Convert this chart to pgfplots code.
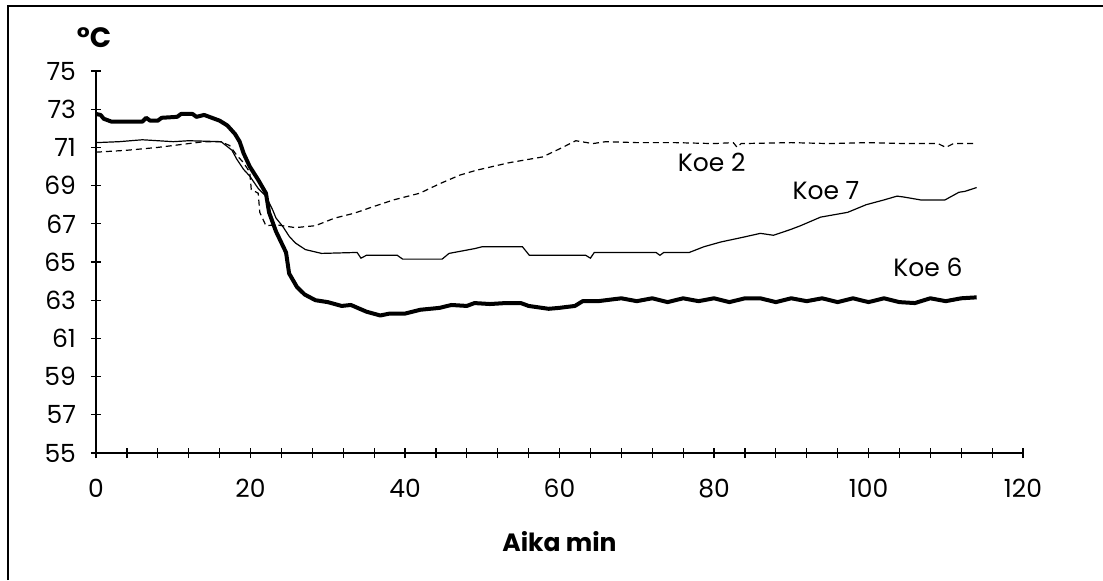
\documentclass[border=0pt]{standalone}
\usepackage{fontspec}
\setmainfont{Poppins}
\usepackage{pgfplots}
\pgfplotsset{compat=1.18}
\begin{document}
\begin{tikzpicture}
\useasboundingbox (-48pt,-63.5pt) rectangle (503.5pt,226.5pt);
\draw[line width=1pt] (-44pt,-63.5pt) -- (-44pt,223.5pt) -- (503.5pt,223.5pt);
\begin{axis}[
  at={(0pt,0pt)}, anchor=south west,
  scale only axis, width=463.5pt, height=191pt,
  xmin=0, xmax=120, ymin=55, ymax=75,
  axis x line*=bottom, axis y line*=left,
  axis line style={line width=0.7pt, -},
  xtick={0,20,...,120}, minor xtick={0,4,...,120},
  ytick={55,57,...,75},
  tick align=center, major tick length=5pt, minor tick length=5pt,
  tick style={line width=0.6pt, black},
  ticklabel style={font=\fontsize{12.5}{14}\selectfont},
  /pgf/number format/assume math mode=true,
  xticklabel style={yshift=-7pt},
  yticklabel style={xshift=-4pt},
  xlabel={Aika min},
  ylabel={°C},
  every axis x label/.style={at={(axis description cs:0.5,0)}, anchor=center, yshift=-44.5pt, font=\bfseries\fontsize{12.5}{14}\selectfont},
  every axis y label/.style={at={(axis description cs:0,1)}, anchor=center, xshift=-1pt, yshift=16.5pt, font=\bfseries\fontsize{14}{16}\selectfont},
  clip=false,
]
% Koe 6 (thick)
\addplot[black, line width=2pt, line join=round] coordinates {
(0,72.75) (0.6,72.7) (1.0,72.5) (2.0,72.35) (6.0,72.35) (6.5,72.55) (7.0,72.4) (8.0,72.4)
(8.5,72.55) (10.5,72.6) (11,72.75) (12.5,72.75) (13,72.6) (14,72.7) (15,72.55) (16,72.4)
(17,72.15) (18,71.7) (18.6,71.3) (19.1,70.7) (19.9,70.0) (21,69.3) (22,68.6) (22.4,67.6)
(23.3,66.6) (24.6,65.5) (25,64.4) (26,63.7) (27,63.3) (28.4,63.0) (30,62.9) (31.8,62.7)
(33,62.75) (35,62.4) (36.8,62.2) (38,62.3) (40,62.3) (42,62.5) (44.5,62.6) (46,62.75)
(48,62.7) (49,62.85) (51,62.8) (53,62.85) (55,62.85) (56,62.7) (58.6,62.55) (60,62.6)
(62,62.7) (63,62.95) (65,62.95) (68,63.1) (70,62.95) (72,63.1) (74,62.9) (76,63.1)
(78,62.95) (80,63.1) (82,62.9) (84,63.1) (86,63.1) (88,62.9) (90,63.1) (92,62.95)
(94,63.1) (96,62.9) (98,63.1) (100,62.9) (102,63.1) (104,62.9) (106,62.85) (108,63.1)
(110,62.95) (112,63.1) (114,63.15)
};
% Koe 7 (thin)
\addplot[black, line width=0.6pt] coordinates {
(0,71.25) (3,71.3) (6,71.4) (8,71.35) (10,71.3) (12,71.35) (16.2,71.3) (17.6,70.85)
(18.2,70.4) (19.1,69.85) (19.9,69.5) (21,68.85) (22,68.45) (22.9,67.7) (23.3,67.3)
(24.2,66.85) (25,66.35) (25.8,66.0) (27.1,65.65) (29.2,65.45) (33.8,65.5) (34.3,65.2)
(35,65.35) (39,65.35) (39.7,65.15) (44.8,65.15) (45.7,65.45) (49,65.7) (50,65.8)
(55.2,65.8) (56.1,65.35) (63.4,65.35) (64,65.2) (64.5,65.5) (72.5,65.5) (73,65.35)
(73.5,65.5) (76.8,65.5) (78.7,65.8) (80.9,66.05) (83.8,66.3) (86,66.5) (87.7,66.4)
(89.9,66.7) (91.2,66.9) (93.8,67.35) (97.3,67.6) (99.7,68.0) (102,68.25) (103.7,68.45)
(104.6,68.4) (106.75,68.25) (109.9,68.25) (111.7,68.65) (112.5,68.7) (114,68.9)
};
% Koe 2 (dashed)
\addplot[black, line width=0.6pt, dash pattern=on 3pt off 2pt] coordinates {
(0,70.75) (4,70.85) (8,71.0) (12,71.2) (14,71.3) (16.1,71.3) (17.3,71.1) (18.2,70.6)
(19.1,70.2) (19.9,69.7) (20.1,68.8) (21,68.6) (21.2,67.6) (22,66.9) (23.3,66.95)
(25.8,66.8) (28.4,66.9) (30.9,67.3) (33.4,67.55) (35.9,67.9) (38.5,68.25) (41.9,68.6)
(44.5,69.1) (47.1,69.55) (49.2,69.8) (53.5,70.2) (57.8,70.5) (60.4,71.0) (62.1,71.35)
(64.3,71.2) (66,71.3) (70,71.25) (75,71.25) (80,71.2) (82.5,71.25) (83,71.0) (83.5,71.2)
(90,71.25) (95,71.2) (100,71.25) (105,71.2) (109,71.2) (110,71.0) (111,71.2) (114,71.2)
};
\node[font=\fontsize{12.5}{14}\selectfont] at (axis cs:79.7,70.2) {Koe 2};
\node[font=\fontsize{12.5}{14}\selectfont] at (axis cs:94.5,68.75) {Koe 7};
\node[font=\fontsize{12.5}{14}\selectfont] at (axis cs:107.7,64.7) {Koe 6};
\end{axis}
\end{tikzpicture}
\end{document}
